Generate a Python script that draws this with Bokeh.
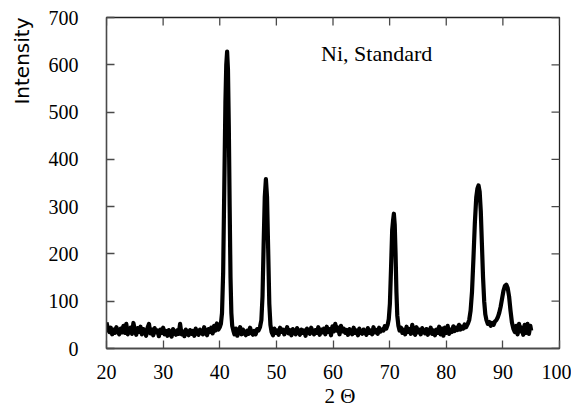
import math
from bokeh.plotting import figure
from bokeh.models import LinearAxis, Range1d, FixedTicker, Title, Label
from bokeh.embed import file_html
from bokeh.resources import INLINE

# ---- data (2-theta in degrees, intensity in counts) ----
bg1_x = [20.0, 20.25, 20.5, 20.75, 21.0, 21.25, 21.5, 21.75, 22.0, 22.25, 22.5, 22.75,
         23.0, 23.25, 23.5, 23.75, 24.0, 24.25, 24.5, 24.75, 25.0, 25.25, 25.5, 25.75,
         26.0, 26.25, 26.5, 26.75, 27.0, 27.25, 27.5, 27.75, 28.0, 28.25, 28.5, 28.75,
         29.0, 29.25, 29.5, 29.75, 30.0, 30.25, 30.5, 30.75, 31.0, 31.25, 31.5, 31.75,
         32.0, 32.25, 32.5, 32.75, 33.0, 33.25, 33.5, 33.75, 34.0, 34.25, 34.5, 34.75,
         35.0, 35.25, 35.5, 35.75, 36.0, 36.25, 36.5, 36.75, 37.0, 37.25, 37.5, 37.75,
         38.0, 38.25, 38.5, 38.75, 39.0, 39.25, 39.5, 39.75]
bg1_y = [55, 42, 35, 44, 30, 40, 33, 45, 36, 30, 42, 34,
         48, 33, 52, 30, 38, 44, 31, 54, 40, 29, 43, 35,
         46, 30, 41, 36, 27, 44, 52, 32, 40, 28, 43, 34,
         38, 26, 40, 33, 44, 30, 37, 27, 39, 32, 25, 41,
         34, 29, 38, 31, 52, 30, 36, 26, 40, 33, 28, 39,
         31, 37, 27, 42, 33, 29, 40, 34, 30, 45, 33, 28,
         41, 35, 44, 32, 48, 38, 53, 40]

pk1_x = [40.0, 40.2, 40.4, 40.6, 40.8, 41.0, 41.15, 41.3, 41.45, 41.6, 41.75, 41.9, 42.05, 42.2, 42.4]
pk1_y = [45, 52, 75, 160, 340, 520, 600, 628, 590, 470, 300, 150, 75, 48, 38]

bg2_x = [42.6, 42.85, 43.1, 43.35, 43.6, 43.85, 44.1, 44.35, 44.6, 44.85, 45.1, 45.35,
         45.6, 45.85, 46.1, 46.35, 46.6, 46.85]
bg2_y = [30, 42, 27, 36, 45, 30, 40, 33, 28, 38, 31, 44,
         34, 29, 37, 30, 41, 38]

pk2_x = [47.1, 47.35, 47.55, 47.75, 47.95, 48.15, 48.35, 48.55, 48.75, 48.95, 49.15]
pk2_y = [45, 60, 110, 220, 320, 358, 320, 210, 95, 50, 35]

bg3_x = [49.4, 49.65, 49.9, 50.15, 50.4, 50.65, 50.9, 51.15, 51.4, 51.65, 51.9, 52.15,
         52.4, 52.65, 52.9, 53.15, 53.4, 53.65, 53.9, 54.15, 54.4, 54.65, 54.9, 55.15,
         55.4, 55.65, 55.9, 56.15, 56.4, 56.65, 56.9, 57.15, 57.4, 57.65, 57.9, 58.15,
         58.4, 58.65, 58.9, 59.15, 59.4, 59.65, 59.9, 60.15, 60.4, 60.65, 60.9, 61.15,
         61.4, 61.65, 61.9, 62.15, 62.4, 62.65, 62.9, 63.15, 63.4, 63.65, 63.9, 64.15,
         64.4, 64.65, 64.9, 65.15, 65.4, 65.65, 65.9, 66.15, 66.4, 66.65, 66.9, 67.15,
         67.4, 67.65, 67.9, 68.15, 68.4, 68.65, 68.9, 69.15, 69.4]
bg3_y = [28, 42, 33, 38, 29, 44, 35, 40, 30, 37, 45, 32,
         39, 28, 41, 34, 30, 43, 36, 29, 40, 33, 38, 27,
         42, 35, 31, 44, 36, 30, 39, 33, 45, 29, 40, 34,
         42, 30, 46, 35, 41, 28, 47, 36, 52, 38, 44, 30,
         48, 36, 42, 33, 39, 29, 41, 35, 30, 44, 33, 38,
         28, 42, 34, 31, 40, 35, 29, 43, 33, 38, 30, 45,
         34, 39, 31, 44, 36, 40, 38, 47, 42]

pk3_x = [69.65, 69.85, 70.05, 70.25, 70.45, 70.6, 70.75, 70.9, 71.05, 71.2, 71.35, 71.55, 71.75]
pk3_y = [50, 62, 95, 170, 250, 270, 285, 262, 200, 120, 70, 48, 38]

bg4_x = [72.0, 72.25, 72.5, 72.75, 73.0, 73.25, 73.5, 73.75, 74.0, 74.25, 74.5, 74.75,
         75.0, 75.25, 75.5, 75.75, 76.0, 76.25, 76.5, 76.75, 77.0, 77.25, 77.5, 77.75,
         78.0, 78.25, 78.5, 78.75, 79.0, 79.25, 79.5, 79.75, 80.0, 80.25, 80.5, 80.75,
         81.0, 81.25, 81.5, 81.75, 82.0, 82.25, 82.5, 82.75, 83.0, 83.25, 83.5]
bg4_y = [44, 33, 40, 30, 46, 35, 41, 31, 50, 36, 29, 45,
         34, 40, 30, 43, 37, 32, 41, 29, 36, 44, 31, 38,
         28, 40, 33, 46, 30, 42, 27, 44, 33, 48, 31, 40,
         35, 47, 37, 44, 39, 50, 40, 46, 42, 51, 45]

pk4_x = [83.8, 84.05, 84.3, 84.55, 84.8, 85.05, 85.3, 85.5, 85.7, 85.9, 86.1, 86.3,
         86.5, 86.7, 86.9, 87.1, 87.35, 87.6, 87.85, 88.1, 88.35, 88.6, 88.85, 89.1]
pk4_y = [52, 60, 80, 120, 190, 265, 320, 338, 345, 332, 290, 220,
         150, 100, 72, 60, 52, 56, 48, 54, 50, 57, 60, 66]

pk5_x = [89.35, 89.6, 89.85, 90.1, 90.35, 90.6, 90.85, 91.1, 91.35, 91.6, 91.85]
pk5_y = [75, 88, 105, 122, 132, 135, 128, 110, 80, 55, 42]

bg5_x = [92.1, 92.35, 92.6, 92.85, 93.1, 93.35, 93.6, 93.85, 94.1, 94.35, 94.6, 94.85, 95.0]
bg5_y = [35, 48, 30, 52, 36, 44, 29, 50, 33, 52, 31, 48, 38]

two_theta = bg1_x + pk1_x + bg2_x + pk2_x + bg3_x + pk3_x + bg4_x + pk4_x + pk5_x + bg5_x
intensity = bg1_y + pk1_y + bg2_y + pk2_y + bg3_y + pk3_y + bg4_y + pk4_y + pk5_y + bg5_y

x_ticks = [20, 30, 40, 50, 60, 70, 80, 90, 100]
y_ticks = [0, 100, 200, 300, 400, 500, 600, 700]

SERIF = "Liberation Serif"
AXIS_GREY = "#4a4a4a"

p = figure(width=571, height=412, output_backend="svg", toolbar_location=None,
           x_range=Range1d(x_ticks[0], x_ticks[-1]), y_range=Range1d(y_ticks[0], y_ticks[-1]),
           x_axis_location=None, y_axis_location=None,
           min_border_left=105, min_border_right=12, min_border_top=17, min_border_bottom=64,
           background_fill_color="white", border_fill_color="white")
p.outline_line_color = "#222222"
p.outline_line_width = 1.3
for g in p.grid:
    g.visible = False


def style(ax):
    ax.major_tick_in = 8
    ax.major_tick_out = 0
    ax.minor_tick_in = 0
    ax.minor_tick_out = 0
    ax.axis_line_color = AXIS_GREY
    ax.axis_line_width = 1.3
    ax.major_tick_line_color = AXIS_GREY
    ax.major_tick_line_width = 1.3
    ax.major_label_text_font = SERIF
    ax.major_label_text_font_style = "normal"
    ax.major_label_text_color = "black"
    ax.major_label_text_font_size = "20px"


bottom = LinearAxis(ticker=FixedTicker(ticks=x_ticks))
style(bottom)
bottom.major_label_standoff = 16
p.add_layout(bottom, "below")

left = LinearAxis(ticker=FixedTicker(ticks=y_ticks))
style(left)
left.major_label_standoff = 28
p.add_layout(left, "left")

# inward ticks on the top and right edges of the frame (half of each dash is clipped by the frame)
p.scatter(x=x_ticks, y=[y_ticks[-1]] * len(x_ticks), marker="dash", size=16, angle=math.pi / 2,
          line_color=AXIS_GREY, line_width=1.3)
p.scatter(x=[x_ticks[-1]] * len(y_ticks), y=y_ticks, marker="dash", size=16,
          line_color=AXIS_GREY, line_width=1.3)

p.line(two_theta, intensity, line_color="black", line_width=4.2, line_join="round")

p.add_layout(Label(x=57.9, y=624, text="Ni, Standard", text_font=SERIF,
                   text_font_size="22px", text_color="black", text_baseline="alphabetic"))

xlabel = Title(text="2 Θ", align="left", offset=218, standoff=1,
               text_font=SERIF, text_font_size="21px", text_font_style="normal", text_color="black")
p.add_layout(xlabel, "below")

ylabel = Title(text="Intensity", align="right", vertical_align="top", offset=0, standoff=19,
               text_font="DejaVu Sans", text_font_size="20px", text_font_style="normal",
               text_color="black")
p.add_layout(ylabel, "left")

open("out.html", "w").write(file_html(p, INLINE))
